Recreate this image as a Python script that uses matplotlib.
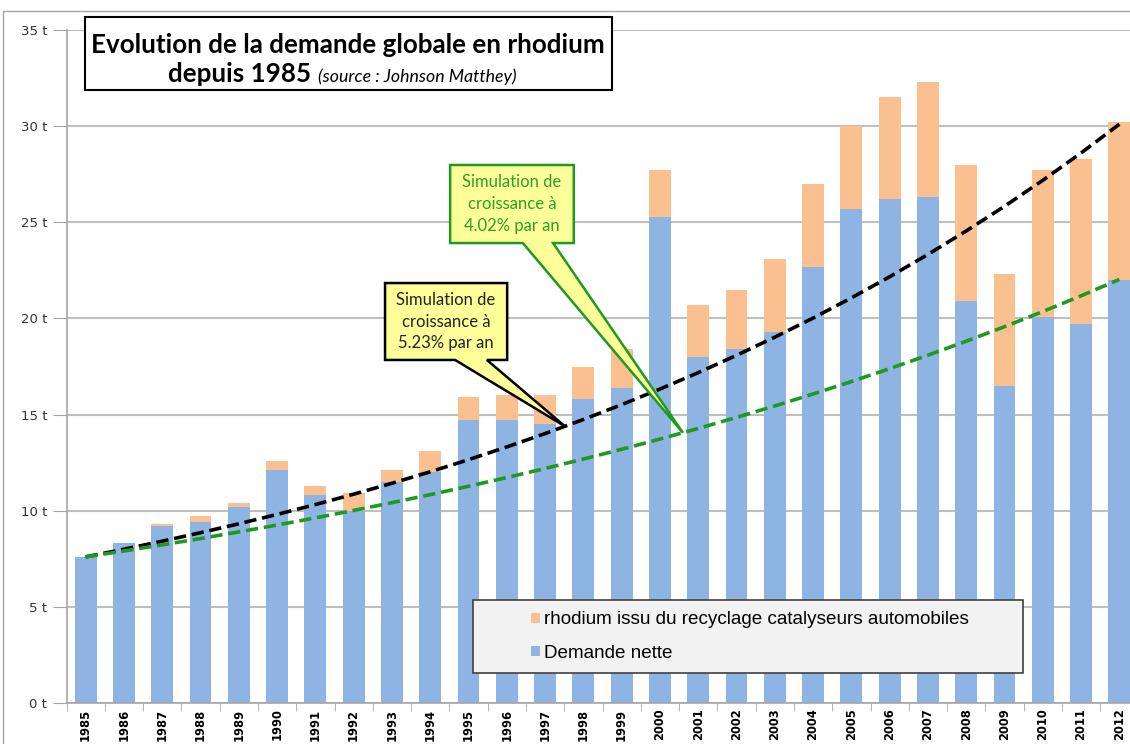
import matplotlib
matplotlib.use('Agg')
import matplotlib.pyplot as plt
from matplotlib.patches import Rectangle, Polygon
import numpy as np

plt.rcParams['font.family'] = 'DejaVu Sans'

years = list(range(1985, 2013))
net_demand = [7.6, 8.3, 9.2, 9.4, 10.2, 12.1, 10.8, 10.0, 11.5, 12.0,
              14.7, 14.7, 14.5, 15.8, 16.4, 25.3, 18.0, 18.4, 19.3, 22.7,
              25.7, 26.2, 26.3, 20.9, 16.5, 20.1, 19.7, 22.0]
recycled = [0.0, 0.0, 0.1, 0.3, 0.2, 0.5, 0.5, 0.9, 0.6, 1.1,
            1.2, 1.3, 1.5, 1.7, 2.0, 2.4, 2.7, 3.1, 3.8, 4.3,
            4.3, 5.3, 6.0, 7.1, 5.8, 7.6, 8.6, 8.2]
y_ticks = [0, 5, 10, 15, 20, 25, 30, 35]

# growth simulations starting from the 1985 demand
base_demand = 7.6
rate_high = 0.0523
rate_low = 0.0402

BLUE = '#8EB4E3'
ORANGE = '#FAC08F'
GREEN = '#1F9A1F'
YELLOW = '#FFFF99'


def callout(ax, box, base, tip, edge, text, text_color):
  x0, x1, y0, y1 = box
  pts = [(x0, y1), (x1, y1), (x1, y0), (base[1], y0), tip, (base[0], y0), (x0, y0)]
  ax.add_patch(Polygon(pts, closed=True, facecolor=YELLOW, edgecolor=edge,
                       lw=1.8, zorder=6, clip_on=False, joinstyle='miter'))
  ax.text((x0 + x1) / 2, (y0 + y1) / 2, text, ha='center', va='center',
          color=text_color, fontsize=12, family='Lato', linespacing=1.45, zorder=7)


fig = plt.figure(figsize=(11.3, 7.44), dpi=100)
ax = fig.add_axes([66.5 / 1130, 41 / 744, 1072 / 1130, 673 / 744])

x = np.arange(len(years))
ax.bar(x, net_demand, width=0.57, color=BLUE, zorder=2, label='Demande nette')
ax.bar(x, recycled, width=0.57, bottom=net_demand, color=ORANGE, zorder=2,
       label='rhodium issu du recyclage catalyseurs automobiles')

trend_high = [base_demand * (1 + rate_high) ** i for i in x]
trend_low = [base_demand * (1 + rate_low) ** i for i in x]
ax.plot(x, trend_high, color='black', ls=(0, (3.4, 1.6)), lw=2.6, zorder=4)
ax.plot(x, trend_low, color=GREEN, ls=(0, (3.4, 1.6)), lw=2.6, zorder=4)

ax.set_xlim(-0.5, len(years) - 0.5)
ax.set_ylim(0, 35)
ax.set_yticks(y_ticks)
ax.set_yticklabels(['%d t' % v for v in y_ticks], fontsize=9.5, color='#333333')
ax.yaxis.grid(True, color='#BFBFBF', lw=1.5, zorder=0)
ax.set_axisbelow(True)

ax.set_xticks(x)
ax.set_xticklabels([str(y) for y in years], rotation=90, fontsize=8.3, fontweight='bold')
ax.set_xticks(np.arange(-0.5, len(years), 1.0), minor=True)
ax.tick_params(axis='x', which='major', length=0, pad=4)
ax.tick_params(axis='x', which='minor', length=6, color='#A6A6A6')
ax.tick_params(axis='y', length=10, color='#A6A6A6', pad=4)

for side in ['top', 'right']:
  ax.spines[side].set_visible(False)
for side in ['left', 'bottom']:
  ax.spines[side].set_color('#A6A6A6')
  ax.spines[side].set_linewidth(1.2)

# callouts pointing at the two simulated curves
tip_high = 12.52
tip_low = 15.6
callout(ax, (7.82, 11.01, 17.84, 21.84), (9.65, 10.48),
        (tip_high, base_demand * (1 + rate_high) ** tip_high), 'black',
        'Simulation de\ncroissance à\n5.23% par an', '#222222')
callout(ax, (9.52, 12.75, 23.92, 27.98), (11.42, 12.21),
        (tip_low, base_demand * (1 + rate_low) ** tip_low), GREEN,
        'Simulation de\ncroissance à\n4.02% par an', '#2AA02A')

# legend box
lx0, lx1 = (473 - 66.5) / 1072, (1023 - 66.5) / 1072
ly0, ly1 = 30 / 673, 103 / 673
ax.add_patch(Rectangle((lx0, ly0), lx1 - lx0, ly1 - ly0, transform=ax.transAxes,
                       facecolor='#F2F2F2', edgecolor='#404040', lw=1.2, zorder=8))
handles, labels = ax.get_legend_handles_labels()
leg = ax.legend(handles[::-1], labels[::-1], loc='center left',
                bbox_to_anchor=((514 - 66.5) / 1072, (ly0 + ly1) / 2),
                frameon=False, prop={'family': 'Liberation Sans', 'size': 13.6},
                handlelength=0.45, handleheight=0.45, handletextpad=0.25,
                labelspacing=0.85)
leg.set_zorder(9)

# title box
fig.patches.append(Rectangle((85 / 1130, 1 - 90 / 744), 527 / 1130, 73 / 744,
                             transform=fig.transFigure, facecolor='white',
                             edgecolor='black', lw=1.5, zorder=10))
fig.text(348 / 1130, 1 - 53 / 744, 'Evolution de la demande globale en rhodium',
         ha='center', va='baseline', fontsize=18.7, fontweight='bold',
         family='Lato', zorder=11)
fig.text(311 / 1130, 1 - 82 / 744, 'depuis 1985', ha='right', va='baseline',
         fontsize=18.7, fontweight='bold', family='Lato', zorder=11)
fig.text(318 / 1130, 1 - 82 / 744, '(source : Johnson Matthey)', ha='left',
         va='baseline', fontsize=12.8, style='italic', family='Lato', zorder=11)

# outer chart frame
fig.patches.append(Rectangle((3 / 1130, -0.1), 1.2, 1.1 - 11 / 744,
                             transform=fig.transFigure, fill=False,
                             edgecolor='#A6A6A6', lw=1.0, zorder=0))

fig.savefig('out.png', dpi=100)
